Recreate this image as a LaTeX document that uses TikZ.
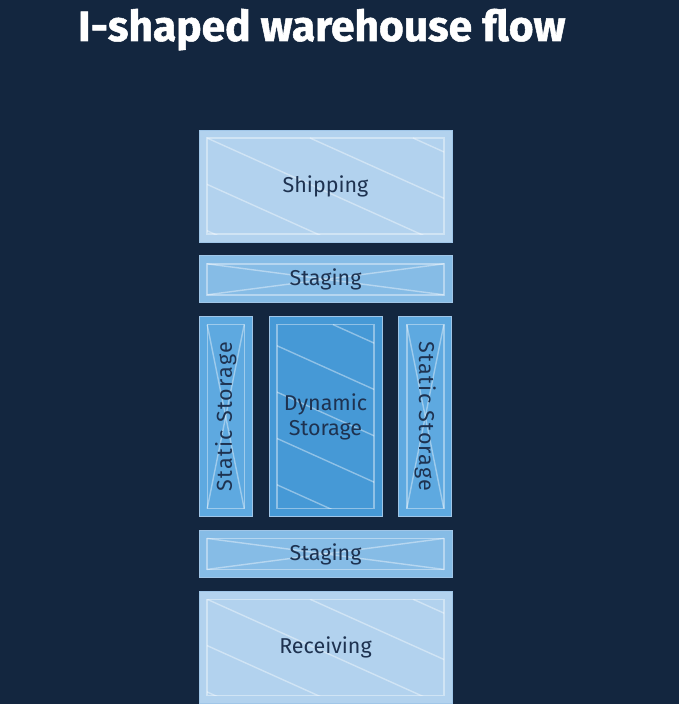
\documentclass[tikz,border=0pt]{standalone}
\usepackage{fontspec}
\setmainfont{Fira Sans}
\newfontfamily\titlefont{Fira Sans}[BoldFeatures={FakeBold=1.2}]
\usetikzlibrary{positioning}
\definecolor{bgnavy}{RGB}{19,38,63}
\definecolor{shipblue}{RGB}{178,210,238}
\definecolor{stageblue}{RGB}{134,188,230}
\definecolor{staticblue}{RGB}{94,169,224}
\definecolor{dynblue}{RGB}{70,153,214}
\definecolor{edgeblue}{RGB}{160,198,232}
\definecolor{labelnavy}{RGB}{30,50,80}

\begin{document}
\begin{tikzpicture}[
  x=1bp,y=-1bp,
  font=\fontsize{21.5bp}{25bp}\selectfont,
  zone/.style={draw=edgeblue,line width=0.8bp,inner sep=0pt,text=labelnavy,align=center},
  frame/.style={draw=white,draw opacity=0.4,line width=1.4bp},
  crossed/.style={path picture={
    \coordinate (nw) at ([shift={(8bp,-8bp)}]path picture bounding box.north west);
    \coordinate (se) at ([shift={(-8bp,8bp)}]path picture bounding box.south east);
    \draw[frame] (nw) rectangle (se);
    \draw[frame] (nw) -- (se);
    \draw[frame] (nw |- se) -- (se |- nw);
  }},
  hatched/.style={path picture={
    \coordinate (nw) at ([shift={(8bp,-8bp)}]path picture bounding box.north west);
    \coordinate (se) at ([shift={(-8bp,8bp)}]path picture bounding box.south east);
    \begin{scope}
      \clip (nw) rectangle (se);
      \foreach \k in {-5,...,3}
        \draw[frame] ([xshift=#1bp+\k*103bp]nw) -- ++(600bp,-270bp);
    \end{scope}
    \draw[frame] (nw) rectangle (se);
  }},
  node distance=13bp and 16bp
]
  \useasboundingbox[fill=bgnavy] (0,0) rectangle (679,704);

  % title
  \node[anchor=base west,inner sep=0pt,text=white,font=\fontsize{42.5bp}{48bp}\titlefont\bfseries]
    (title) at (78,41) {I-shaped warehouse flow};

  % zones, top to bottom
  \node[zone,hatched=0,fill=shipblue,minimum width=253bp,minimum height=112bp] (ship) at (325.5,186) {Shipping};
  \node[zone,crossed,fill=stageblue,minimum width=253bp,minimum height=47bp,below=of ship] (stage1) {Staging};
  \node[zone,hatched=56,fill=dynblue,minimum width=113bp,minimum height=200bp,below=of stage1] (dyn) {Dynamic\\Storage};
  \node[zone,crossed,fill=staticblue,minimum width=53bp,minimum height=200bp,left=of dyn] (statL) {};
  \node[zone,crossed,fill=staticblue,minimum width=53bp,minimum height=200bp,right=of dyn] (statR) {};
  \node[text=labelnavy,rotate=90,font=\fontsize{21.5bp}{25bp}\selectfont\addfontfeature{LetterSpace=6}] (statLtxt) at (statL) {Static Storage};
  \node[text=labelnavy,rotate=-90,font=\fontsize{21.5bp}{25bp}\selectfont\addfontfeature{LetterSpace=6}] (statRtxt) at (statR) {Static Storage};
  \node[zone,crossed,fill=stageblue,minimum width=253bp,minimum height=47bp,below=of dyn] (stage2) {Staging};
  \node[zone,hatched=0,fill=shipblue,minimum width=253bp,minimum height=112bp,below=of stage2] (recv) {Receiving};
\end{tikzpicture}
\end{document}
